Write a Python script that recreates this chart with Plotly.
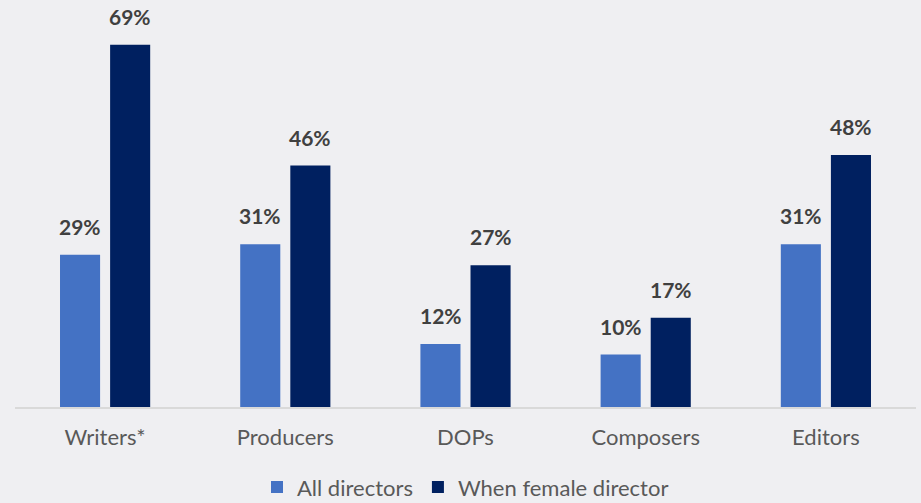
import plotly.graph_objects as go

categories = ["Writers*", "Producers", "DOPs", "Composers", "Editors"]
all_directors = [29, 31, 12, 10, 31]
female_director = [69, 46, 27, 17, 48]
series_names = ["All directors", "When female director"]
colors = ["#4472C4", "#002060"]

fig = go.Figure()
for name, vals, col in zip(series_names, [all_directors, female_director], colors):
    fig.add_trace(go.Bar(x=categories, y=vals, name=name, marker_color=col,
                         marker_line_width=0, hoverinfo="skip"))

annotations = []
for vals, shift in [(all_directors, -25), (female_director, 25)]:
    for c, v in zip(categories, vals):
        annotations.append(dict(x=c, y=v, xref="x", yref="y", text=f"<b>{v}%</b>",
                                showarrow=False, xshift=shift, yshift=14, yanchor="bottom",
                                font=dict(family="Lato", size=21, color="#404040")))

fig.update_layout(
    width=921, height=503,
    paper_bgcolor="#EFEFF2", plot_bgcolor="#EFEFF2",
    margin=dict(l=15, r=5, t=29, b=96, autoexpand=False),
    barmode="group", bargap=0.444, bargroupgap=0.2,
    font=dict(family="Lato", size=22, color="#595959"),
    showlegend=True,
    legend=dict(orientation="h", x=0.5, xanchor="center",
                y=-0.212, yanchor="middle",
                font=dict(size=22, color="#595959"), itemwidth=30, traceorder="normal",
                bgcolor="rgba(0,0,0,0)"),
    annotations=annotations,
)
fig.update_xaxes(showline=True, linecolor="#D9D9D9", linewidth=2, ticks="",
                 ticklabelstandoff=10, tickfont=dict(size=22, color="#595959"))
fig.update_yaxes(range=[0, 72], visible=False, showgrid=False, zeroline=False)

fig.write_html("out.html", config={"displayModeBar": False},
               post_script="document.body.style.margin='0';document.body.style.background='#EFEFF2';")
